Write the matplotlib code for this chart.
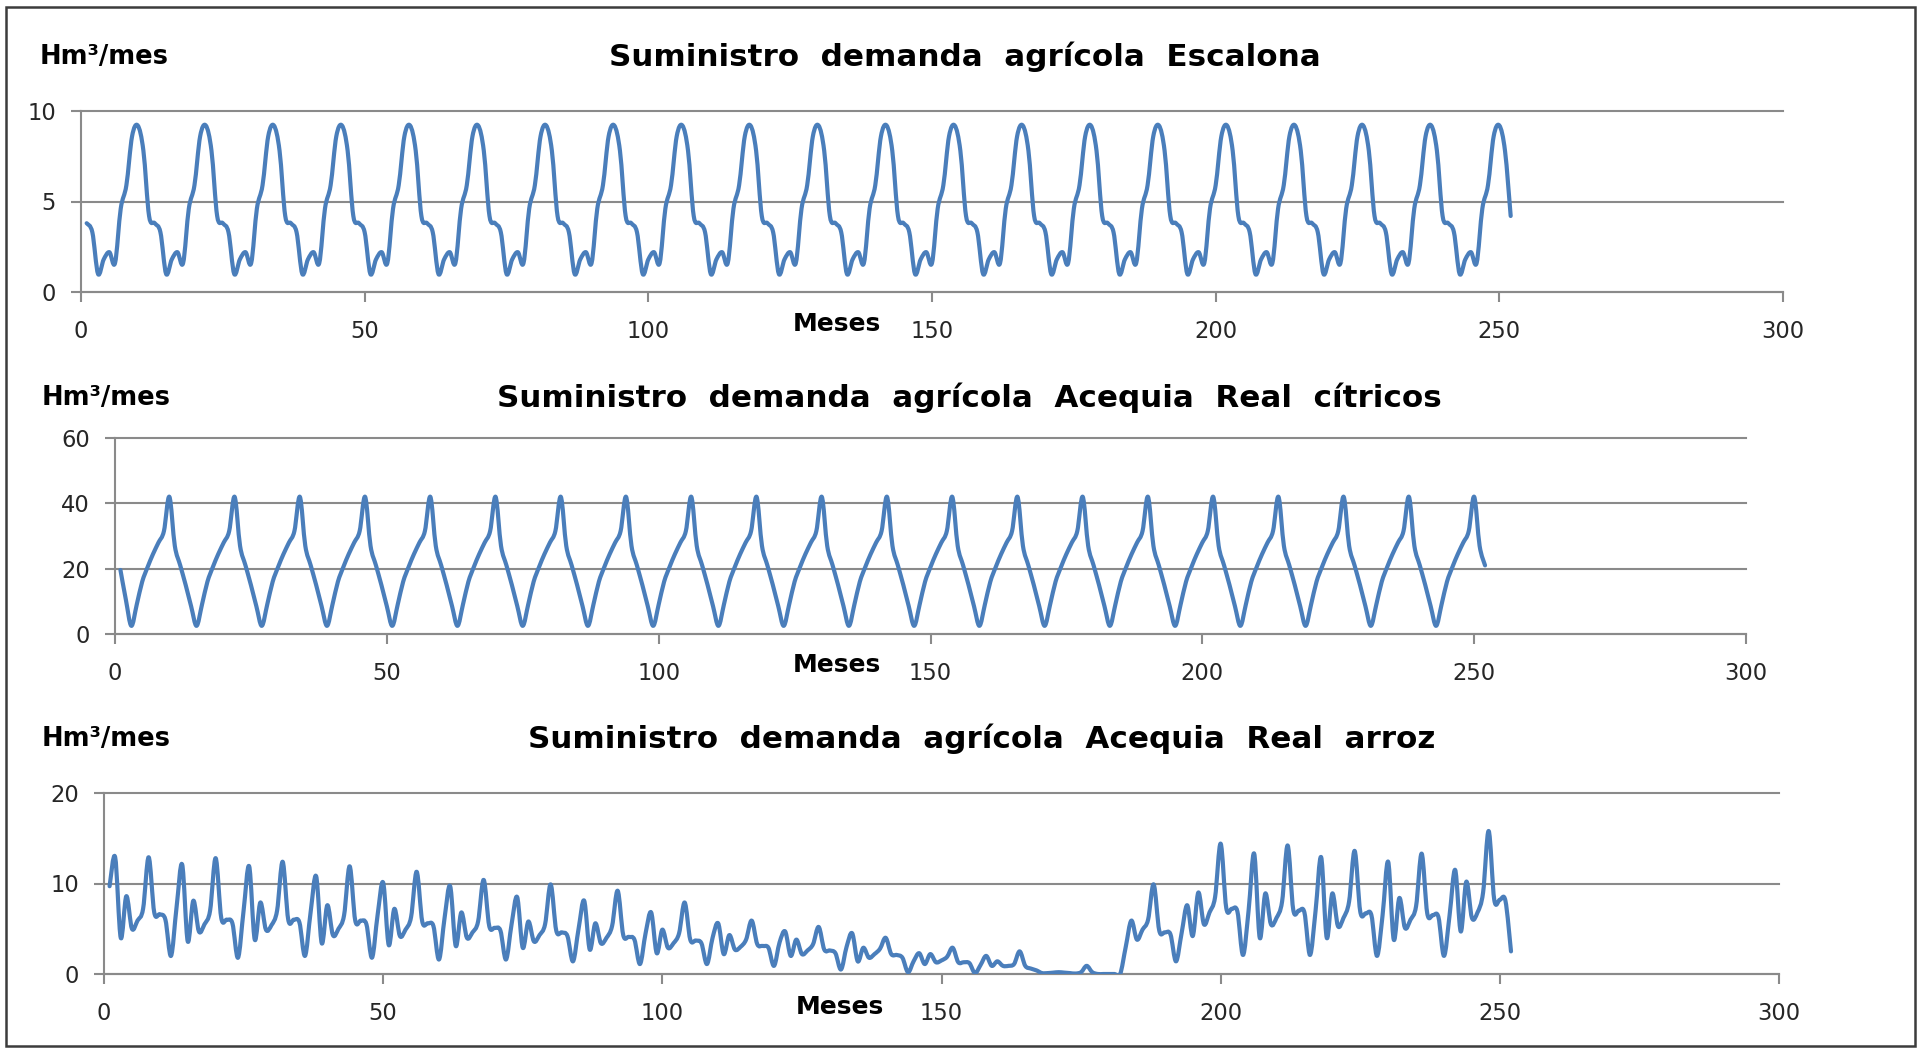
import numpy as np
import matplotlib
matplotlib.use("Agg")
import matplotlib.pyplot as plt
from matplotlib.path import Path
from matplotlib.patches import PathPatch, Rectangle

plt.rcParams['font.family'] = ['DejaVu Sans']

# ---------------------------------------------------------------
# Data: monthly supply (Hm3/month) over 21 hydrological years
# ---------------------------------------------------------------
n_years = 21
months = np.arange(1, 12 * n_years + 1)

# Escalona: identical supply every year (Oct..Sep)
escalona_year = [3.8, 3.3, 1.0, 1.8, 2.2, 1.6, 4.6, 5.9, 8.6, 9.2, 7.8, 4.2]

# Acequia Real citrus: first year, then the regular yearly supply
citricos_first_year = [19.6, 10.5, 2.5, 9.0, 16.0, 20.5, 24.5, 28.0, 31.5, 42.0, 27.0, 21.0]
citricos_year = [15.0, 8.5, 2.5, 9.0, 16.0, 20.5, 24.5, 28.0, 31.5, 42.0, 27.0, 21.0]

escalona = np.tile(escalona_year, n_years)
citricos = np.concatenate([citricos_first_year,
                           np.tile(citricos_year, n_years - 1)])

# Acequia Real rice: supply month by month
arroz = [
    9.7, 12.9, 4.0, 8.6, 5.0, 5.9, 7.2, 12.9, 6.8, 6.6, 6.0, 2.0,
    7.4, 12.1, 3.6, 8.1, 4.7, 5.5, 7.0, 12.8, 6.2, 6.0, 5.6, 1.8,
    7.0, 11.9, 3.8, 7.9, 4.9, 5.4, 7.0, 12.4, 6.0, 6.0, 5.7, 2.0,
    6.8, 10.8, 3.4, 7.6, 4.3, 5.0, 6.5, 11.9, 5.9, 5.9, 5.5, 1.8,
    6.5, 10.1, 3.2, 7.2, 4.2, 4.9, 6.3, 11.3, 5.8, 5.6, 5.3, 1.6,
    6.2, 9.7, 3.1, 6.8, 4.0, 4.6, 5.8, 10.4, 5.3, 5.1, 4.8, 1.6,
    5.5, 8.5, 2.9, 5.8, 3.6, 4.3, 5.5, 9.9, 4.8, 4.6, 4.2, 1.4,
    5.0, 8.1, 2.7, 5.6, 3.4, 4.0, 5.3, 9.2, 4.3, 4.1, 3.8, 1.1,
    4.5, 6.8, 2.3, 4.9, 2.9, 3.4, 4.5, 7.9, 3.8, 3.7, 3.4, 1.1,
    4.0, 5.6, 2.2, 4.3, 2.7, 3.0, 3.8, 5.9, 3.3, 3.1, 2.9, 0.9,
    3.5, 4.7, 2.0, 3.8, 2.2, 2.6, 3.3, 5.2, 2.7, 2.6, 2.3, 0.5,
    3.0, 4.5, 1.4, 2.9, 1.8, 2.2, 2.8, 4.0, 2.2, 2.1, 1.8, 0.2,
    1.4, 2.3, 1.1, 2.2, 1.3, 1.5, 1.9, 2.9, 1.3, 1.3, 1.2, 0.1,
    1.0, 2.0, 0.9, 1.4, 0.9, 0.9, 1.1, 2.5, 0.9, 0.6, 0.4, 0.1,
    0.1, 0.15, 0.2, 0.15, 0.1, 0.05, 0.2, 0.9, 0.2, 0.0, 0.0, 0.0,
    0.0, 0.0, 3.0, 5.9, 3.8, 4.9, 6.0, 9.9, 4.8, 4.6, 4.4, 1.4,
    4.5, 7.6, 4.2, 9.0, 5.5, 6.8, 8.5, 14.4, 7.3, 7.2, 6.9, 2.1,
    7.0, 13.3, 4.0, 8.9, 5.5, 6.2, 8.0, 14.2, 7.1, 7.0, 6.8, 2.1,
    7.0, 12.9, 4.0, 8.9, 5.3, 6.2, 8.0, 13.6, 6.9, 6.7, 6.5, 2.0,
    6.5, 12.4, 3.8, 8.4, 5.1, 6.0, 7.5, 13.3, 6.7, 6.5, 6.3, 2.0,
    6.5, 11.5, 4.7, 10.2, 6.2, 6.8, 9.0, 15.8, 8.2, 8.2, 8.1, 2.5,
]

x_ticks = [0, 50, 100, 150, 200, 250, 300]
titles = [
    "Suministro  demanda  agrícola  Escalona",
    "Suministro  demanda  agrícola  Acequia  Real  cítricos",
    "Suministro  demanda  agrícola  Acequia  Real  arroz",
]
y_ticks = [[0, 5, 10], [0, 20, 40, 60], [0, 10, 20]]
series = [escalona, citricos, arroz]
unit_label = "Hm³/mes"
x_label = "Meses"

BLUE = "#4a7ebb"
GRID = "#8a8a8a"
TEXT = "#262626"

W, H = 1925, 1049


def smooth_path(x, y, k=1.0 / 6.0):
    """Bezier path through the data points (Catmull-Rom style smoothing)."""
    pts = np.column_stack([np.asarray(x, float), np.asarray(y, float)])
    n = len(pts)
    verts = [pts[0]]
    codes = [Path.MOVETO]
    for i in range(n - 1):
        p0 = pts[i - 1] if i > 0 else pts[i]
        p1 = pts[i]
        p2 = pts[i + 1]
        p3 = pts[i + 2] if i + 2 < n else pts[i + 1]
        verts += [p1 + (p2 - p0) * k, p2 - (p3 - p1) * k, p2]
        codes += [Path.CURVE4] * 3
    return Path(np.array(verts), codes)


def px_box(left, right, top, bottom):
    return [left / W, 1 - bottom / H, (right - left) / W, (bottom - top) / H]


fig = plt.figure(figsize=(W / 100, H / 100), dpi=100)
fig.patch.set_facecolor("white")

# panel geometry in pixels: (left, right, top, bottom)
boxes = [(81, 1783, 111, 292), (115, 1746, 438, 634), (104, 1779, 793, 974)]
title_pos = [(965, 57), (969, 398), (982, 739)]
unit_pos = [(40, 57), (42, 398), (42, 739)]
xlabel_pos = [(837, 324), (837, 665), (840, 1007)]

for i in range(3):
    ax = fig.add_axes(px_box(*boxes[i]))
    ax.set_xlim(0, 300)
    ax.set_ylim(y_ticks[i][0], y_ticks[i][-1])
    ax.set_xticks(x_ticks)
    ax.set_yticks(y_ticks[i])
    ax.grid(axis="y", color=GRID, lw=1.5)
    for gl in ax.get_ygridlines():
        gl.set_clip_on(False)
    ax.set_axisbelow(True)
    for s in ("top", "right"):
        ax.spines[s].set_visible(False)
    for s in ("left", "bottom"):
        ax.spines[s].set_color(GRID)
        ax.spines[s].set_linewidth(1.5)
    ax.tick_params(axis="both", colors=GRID, labelcolor=TEXT, length=7,
                   width=1.5, labelsize=16.3)
    ax.tick_params(axis="x", pad=13.5)
    ax.tick_params(axis="y", pad=11)

    path = smooth_path(months, series[i])
    ax.add_patch(PathPatch(path, fill=False, edgecolor=BLUE, lw=3.0,
                           capstyle="round", joinstyle="round", zorder=3))

    fig.text(title_pos[i][0] / W, 1 - title_pos[i][1] / H, titles[i],
             ha="center", va="center", fontsize=22.3, fontweight="bold",
             color="black")
    fig.text(unit_pos[i][0] / W, 1 - unit_pos[i][1] / H, unit_label,
             ha="left", va="center", fontsize=18.5, fontweight="bold",
             color="black")
    fig.text(xlabel_pos[i][0] / W, 1 - xlabel_pos[i][1] / H, x_label,
             ha="center", va="center", fontsize=18, fontweight="bold",
             color="black")

# outer frame
fig.add_artist(Rectangle((6 / W, 1 - 1046 / H), 1909 / W, 1039 / H,
                         transform=fig.transFigure, fill=False,
                         edgecolor="#3c3c3c", lw=1.8))

fig.savefig("out.png", dpi=100, facecolor="white")
